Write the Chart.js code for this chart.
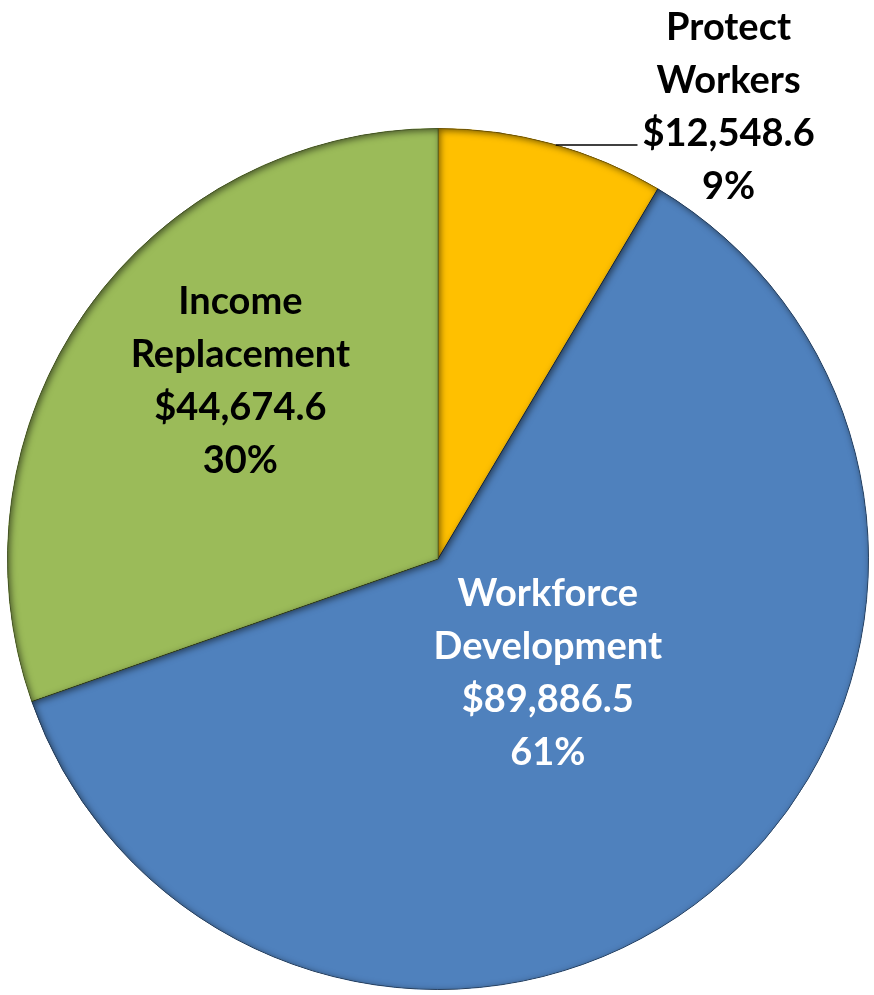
<!DOCTYPE html>
<html>
<head>
<meta charset="utf-8">
<script src="https://cdn.jsdelivr.net/npm/chart.js@4/dist/chart.umd.min.js"></script>
<style>
    html, body { margin: 0; padding: 0; background: #fff; }
    #wrap { width: 874px; height: 995px; position: relative; }
</style>
</head>
<body>
<div id="wrap"><canvas id="pieChart"></canvas></div>
<script>
"use strict";

// chart data
const categories = ['Protect Workers', 'Workforce Development', 'Income Replacement'];
const labelLines = [['Protect', 'Workers'], ['Workforce', 'Development'], ['Income', 'Replacement']];
const amounts = [12548.6, 89886.5, 44674.6];

const sliceColors = ['#FFC000', '#4F81BD', '#9BBB59'];
const edgeColors = ['#B88B00', '#3A5F8C', '#76903F'];
const textColors = ['#000000', '#FFFFFF', '#000000'];

// label anchor, in units of the pie radius, measured from the pie centre
const labelAnchors = [[0.675, -1.049], [0.255, 0.265], [-0.459, -0.413]];

const total = amounts.reduce((a, b) => a + b, 0);

const money = (v) => '$' + v.toLocaleString('en-US', {minimumFractionDigits: 1, maximumFractionDigits: 1});

/**
 * soft inner shadow on every slice, like the bevel in the original
 */
const shadowPlugin = {
    id: 'innerShadow',
    afterDatasetsDraw(chart) {
        const ctx = chart.ctx;
        const arcs = chart.getDatasetMeta(0).data;
        arcs.forEach((arc) => {
            const slicePath = () => {
                ctx.moveTo(arc.x, arc.y);
                ctx.arc(arc.x, arc.y, arc.outerRadius, arc.startAngle, arc.endAngle);
                ctx.closePath();
            };
            ctx.save();
            ctx.beginPath();
            slicePath();
            ctx.clip();
            ctx.beginPath();
            ctx.rect(-2000, -2000, 5000, 5000);
            slicePath();
            ctx.shadowColor = 'rgba(0,0,0,0.55)';
            ctx.shadowBlur = 7;
            ctx.shadowOffsetX = 2;
            ctx.shadowOffsetY = 2;
            ctx.fillStyle = '#000';
            ctx.fill('evenodd');
            ctx.restore();
        });
    }
};

/**
 * draws the data labels; the first slice gets a leader line to the text
 */
const labelPlugin = {
    id: 'sliceLabels',
    afterDatasetsDraw(chart) {
        const ctx = chart.ctx;
        const arcs = chart.getDatasetMeta(0).data;
        const lineH = 53;
        ctx.save();
        ctx.font = 'bold 38px Lato';
        ctx.textAlign = 'center';
        ctx.textBaseline = 'middle';
        arcs.forEach((arc, i) => {
            const r = arc.outerRadius;
            const cx = arc.x + labelAnchors[i][0] * r;
            const cy = arc.y + labelAnchors[i][1] * r;
            const pct = Math.round(amounts[i] / total * 100) + '%';
            const lines = labelLines[i].concat([money(amounts[i]), pct]);
            const top = cy - (lines.length - 1) * lineH / 2;
            ctx.fillStyle = textColors[i];
            lines.forEach((t, k) => ctx.fillText(t, cx, top + k * lineH));

            if (i === 0) {
                // leader line from the rim to the value line
                const ly = top + 2 * lineH + 11;
                const dy = ly - arc.y;
                const lx0 = arc.x + Math.sqrt(r * r - dy * dy);
                const lx1 = cx - ctx.measureText(lines[2]).width / 2 - 5;
                ctx.strokeStyle = '#000';
                ctx.lineWidth = 1.5;
                ctx.beginPath();
                ctx.moveTo(lx0, ly);
                ctx.lineTo(lx1, ly);
                ctx.stroke();
            }
        });
        ctx.restore();
    }
};

const ctx = document.getElementById('pieChart').getContext('2d');
const pieChart = new Chart(ctx, {
    type: 'pie',
    data: {
        labels: categories,
        datasets: [{
            data: amounts,
            backgroundColor: sliceColors,
            borderColor: edgeColors,
            borderWidth: 1
        }]
    },
    options: {
        responsive: true,
        maintainAspectRatio: false,
        animation: false,
        layout: {
            padding: {left: 7, right: 5, top: 128, bottom: 5}
        },
        plugins: {
            legend: {display: false},
            tooltip: {enabled: false}
        }
    },
    plugins: [shadowPlugin, labelPlugin]
});
</script>
</body>
</html>
